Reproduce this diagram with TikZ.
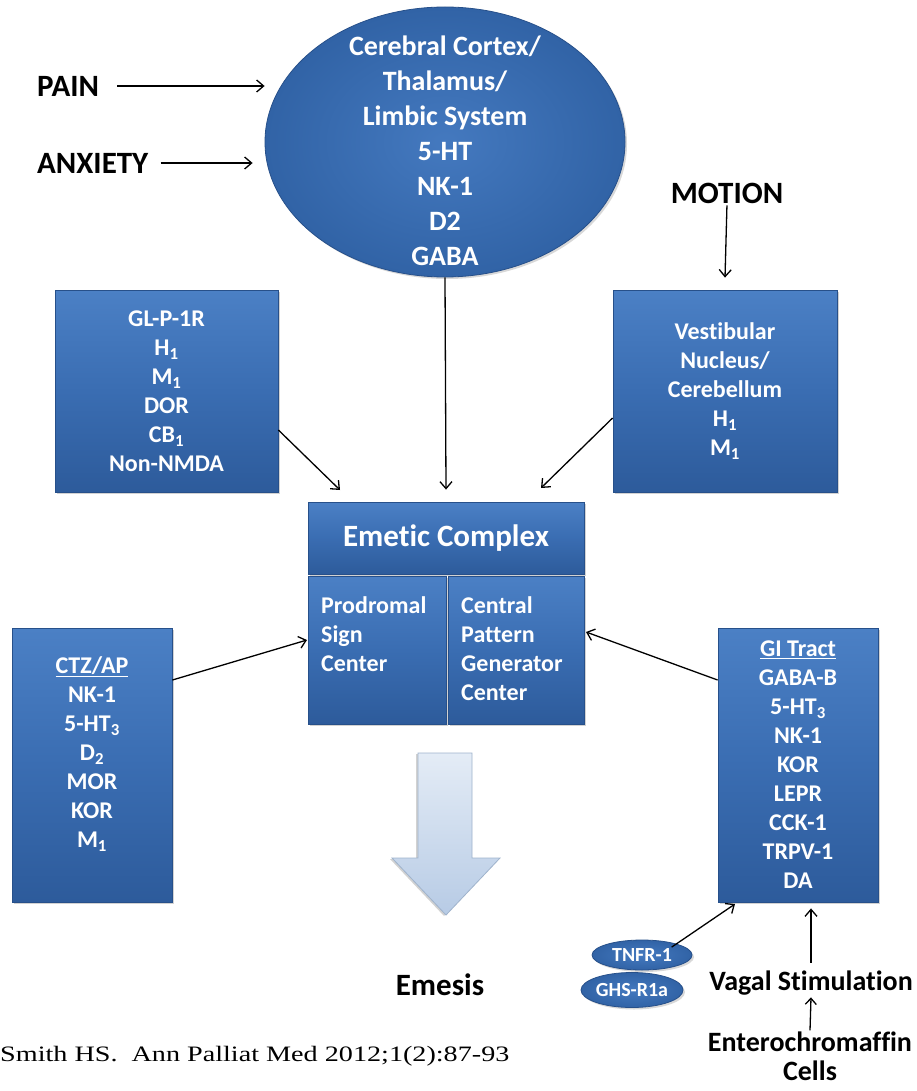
\documentclass[tikz,border=0pt]{standalone}
\usepackage{fontspec}
\setmainfont{Carlito}[Ligatures={NoCommon}]
\newfontfamily\citefont{Liberation Serif}
\usetikzlibrary{arrows.meta,shapes.geometric,shadows,calc}

\definecolor{boxtop}{HTML}{4B80C5}
\definecolor{boxmid}{HTML}{3A6DB2}
\definecolor{boxbot}{HTML}{2D5B9B}
\definecolor{boxedge}{HTML}{27508A}
\definecolor{ellin}{HTML}{4479BF}
\definecolor{ellout}{HTML}{3163A6}
\definecolor{arrtop}{HTML}{E4ECF6}
\definecolor{arrbot}{HTML}{B7CBE5}
\definecolor{arredge}{HTML}{9FB3CC}

\tikzset{
  bluebox/.style={rectangle, draw=boxedge, line width=0.8pt,
    top color=boxtop, bottom color=boxbot, middle color=boxmid,
    text=white, font=\bfseries\fontsize{24}{29}\selectfont,
    align=center, inner sep=0pt,
    drop shadow={opacity=0.35, shadow xshift=2pt, shadow yshift=-2pt}},
  boxtext/.style={text=white, font=\bfseries\fontsize{24}{29}\selectfont, align=center, inner sep=0pt},
  subtext/.style={text=white, font=\bfseries\fontsize{24}{29}\selectfont, align=left, inner sep=0pt},
  blueell/.style={ellipse, draw=boxedge, line width=0.8pt,
    inner color=ellin, outer color=ellout, inner sep=0pt,
    drop shadow={opacity=0.3, shadow xshift=2pt, shadow yshift=-2pt}},
  bigtext/.style={text=black, font=\bfseries\fontsize{31}{36}\selectfont, inner sep=0pt, align=center},
  arr/.style={line width=1.3pt, -{Straight Barb[length=7pt,width=12pt,line width=1.3pt]}},
  blockarrow/.style={draw=arredge, line width=0.8pt, top color=arrtop, bottom color=arrbot,
    drop shadow={opacity=0.35, shadow xshift=-2pt, shadow yshift=-1pt}}
}

\begin{document}
\begin{tikzpicture}[x=1pt,y=-1pt]
\useasboundingbox (0,0) rectangle (917,1091);
\fill[white] (0,0) rectangle (917,1091);

% top ellipse
\node[blueell, minimum width=360pt, minimum height=270pt] (ell) at (445,142) {};
\node[boxtext, font=\bfseries\fontsize{28}{35}\selectfont] (elltext) at (445,151)
  {Cerebral Cortex/\\Thalamus/\\Limbic System\\5-HT\\NK-1\\D2\\GABA};

% input labels
\node[bigtext, anchor=west] (pain) at (37,86) {PAIN};
\node[bigtext, anchor=west] (anx) at (37,163) {ANXIETY};
\node[bigtext] (motion) at (727,193) {MOTION};

% boxes
\node[bluebox, minimum width=223pt, minimum height=202pt] (gl) at (166.5,391)
  {GL-P-1R\\H\textsubscript{1}\\M\textsubscript{1}\\DOR\\CB\textsubscript{1}\\Non-NMDA};
\node[bluebox, minimum width=224pt, minimum height=202pt] (vest) at (725,391)
  {Vestibular\\Nucleus/\\Cerebellum\\H\textsubscript{1}\\M\textsubscript{1}};
\node[bluebox, minimum width=160pt, minimum height=274pt] (ctz) at (92,765) {};
\node[boxtext] (ctztext) at (92,754)
  {\underline{CTZ/AP}\\NK-1\\5-HT\textsubscript{3}\\D\textsubscript{2}\\MOR\\KOR\\M\textsubscript{1}};
\node[bluebox, minimum width=160pt, minimum height=274pt] (gi) at (798,765)
  {\underline{GI Tract}\\GABA-B\\5-HT\textsubscript{3}\\NK-1\\KOR\\LEPR\\CCK-1\\TRPV-1\\DA};

% emetic complex
\node[bluebox, minimum width=276pt, minimum height=72pt, font=\bfseries\fontsize{31}{36}\selectfont] (emh) at (446,538) {Emetic Complex};
\node[bluebox, minimum width=138pt, minimum height=148pt] (prod) at (377,650) {};
\node[bluebox, minimum width=136pt, minimum height=148pt] (cent) at (516,650) {};
\node[subtext, anchor=north west] (prodtext) at (321,596) {Prodromal\\Sign\\Center};
\node[subtext, anchor=north west] (centtext) at (461,596) {Central\\Pattern\\Generator\\Center};

% emesis block arrow
\draw[blockarrow] (418,753) -- (472,753) -- (472,858) -- (500,858) -- (446,915)
  -- (392,858) -- (418,858) -- cycle;
\node[bigtext] (emesis) at (440,985) {Emesis};

% bottom right items
\node[blueell, minimum width=100pt, minimum height=30pt, text=white,
  font=\bfseries\fontsize{20}{22}\selectfont] (tnfr) at (642,955) {TNFR-1};
\node[blueell, minimum width=100pt, minimum height=35pt, text=white,
  font=\bfseries\fontsize{20}{22}\selectfont] (ghs) at (632,990) {GHS-R1a};
\node[bigtext, font=\bfseries\fontsize{28}{29}\selectfont] (vagal) at (811,983) {Vagal Stimulation};
\node[bigtext, font=\bfseries\fontsize{28}{29}\selectfont] (entero) at (810,1056) {Enterochromaffin\\Cells};

% citation
\node[anchor=west, inner sep=0pt, font=\citefont\fontsize{22}{24}\selectfont] (cite) at (0,1056)
  {\scalebox{1.28}[1]{Smith HS.\ \ Ann Palliat Med 2012;1(2):87-93}};

% connectors
\coordinate (glend) at (340,490);
\coordinate (vestend) at (541,488);
\coordinate (ctzend) at (307,640);
\coordinate (giend) at (586,632);
\coordinate (tnfrend) at (735,904);
\draw[arr] ([xshift=18pt]pain.east) -- (pain.east -| ell.west);
\draw[arr] ([xshift=12pt]anx.east) -- ([xshift=-12pt]anx.east -| ell.west);
\draw[arr] (ell.south) -- ([yshift=12pt]emh.north);
\draw[arr, shorten <=2pt] (motion.south) -- ([yshift=12pt]vest.north);
\draw[arr] ([yshift=-39pt]gl.east) -- (glend);
\draw[arr] ([yshift=-27pt]vest.west) -- (vestend);
\draw[arr] ([yshift=85pt]ctz.east) -- (ctzend);
\draw[arr] ([yshift=85pt]gi.west) -- (giend);
\draw[arr] ([xshift=-6pt,yshift=-3pt]tnfr.north east) -- (tnfrend);
\draw[arr] ([yshift=8pt]vagal.north) -- ([yshift=-6pt]vagal.north |- gi.south);
\draw[arr, -{Straight Barb[length=6pt,width=11pt,line width=1.3pt]}]
  ([yshift=1pt]entero.north) -- ([yshift=-2pt]vagal.south);
\end{tikzpicture}
\end{document}
